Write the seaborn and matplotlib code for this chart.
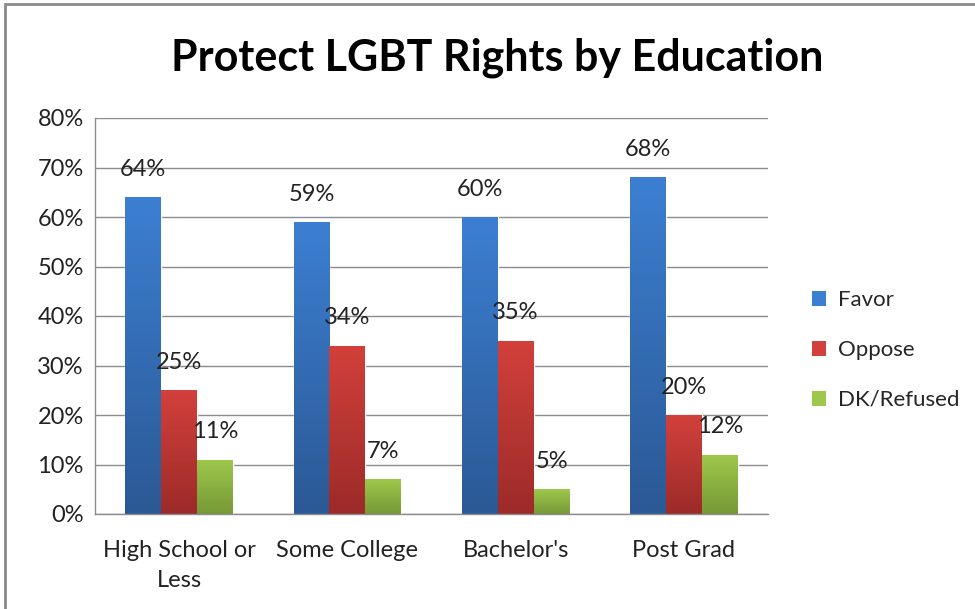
import numpy as np
import pandas as pd
import matplotlib
matplotlib.use('Agg')
import matplotlib.pyplot as plt
import seaborn as sns
from matplotlib.patches import Rectangle, Patch
from matplotlib.colors import LinearSegmentedColormap

categories = ["High School or\nLess", "Some College", "Bachelor's", "Post Grad"]
series = ["Favor", "Oppose", "DK/Refused"]
favor = [64, 59, 60, 68]
oppose = [25, 34, 35, 20]
dk = [11, 7, 5, 12]

# top / bottom colours for the Excel-like gradient
top_cols = {"Favor": "#3C7FD2", "Oppose": "#D2403B", "DK/Refused": "#9DC84B"}
bot_cols = {"Favor": "#2B5995", "Oppose": "#9C2B29", "DK/Refused": "#779937"}

df = pd.DataFrame({
    "cat": categories * 3,
    "series": [s for s in series for _ in categories],
    "value": favor + oppose + dk,
})

sns.set_style("white")
plt.rcParams['font.family'] = ['Lato', 'DejaVu Sans']

fig = plt.figure(figsize=(9.75, 6.09), dpi=100)
ax = fig.add_axes([95/975, 1-514/609, (768-95)/975, (514-118)/609])

sns.barplot(data=df, x="cat", y="value", hue="series", hue_order=series,
            palette=top_cols, width=0.64, ax=ax, legend=False, saturation=1)

ax.set_ylim(0, 80)
ax.set_yticks(range(0, 81, 10))
ax.set_yticklabels([f"{v}%" for v in range(0, 81, 10)], fontsize=17, color="#222222")
ax.tick_params(axis='x', labelsize=17, colors="#222222", length=0, pad=19)
ax.tick_params(axis='y', length=0, pad=8)
for lbl in ax.get_xticklabels():
    lbl.set_linespacing(1.5)
ax.set_xlabel("")
ax.set_ylabel("")
ax.yaxis.grid(True, color="#8c8c8c", linewidth=1)
ax.set_axisbelow(True)
for s in ["top", "right"]:
    ax.spines[s].set_visible(False)
for s in ["left", "bottom"]:
    ax.spines[s].set_color("#8c8c8c")
    ax.spines[s].set_linewidth(1)

# gradient fill + value labels
for cont, name in zip(ax.containers, series):
    cmap = LinearSegmentedColormap.from_list(name, [bot_cols[name], top_cols[name]])
    for bar in cont:
        x0, w, h = bar.get_x(), bar.get_width(), bar.get_height()
        grad = np.linspace(0, 1, 100).reshape(-1, 1)
        im = ax.imshow(grad, extent=[x0, x0 + w, 0, h], origin='lower',
                       aspect='auto', cmap=cmap, zorder=2)
        im.set_clip_path(bar)
        bar.set_facecolor("none")
        ax.annotate(f"{h:.0f}%", (x0 + w / 2, h), xytext=(0, 20),
                    textcoords="offset points", ha="center", va="center",
                    fontsize=17, color="#222222", zorder=5)
ax.set_xlim(-0.5, 3.5)
ax.set_ylim(0, 80)

handles = [Patch(facecolor=top_cols[s], edgecolor="none") for s in series]
fig.legend(handles, series, loc="center left", bbox_to_anchor=(792/975, 1-350/609),
           frameon=False, fontsize=16, labelspacing=1.35, handlelength=0.65,
           handleheight=0.65, handletextpad=0.5)

fig.text(497/975, 1-58/609, "Protect LGBT Rights by Education", ha="center",
         va="center", fontsize=31, fontweight="bold", color="black")

fig.patches.append(Rectangle((5/975, -0.1), 1.2, 1.1 - 4/609, transform=fig.transFigure,
                             fill=False, edgecolor="#8a8a8a", linewidth=2))

fig.savefig("out.png", dpi=100)
